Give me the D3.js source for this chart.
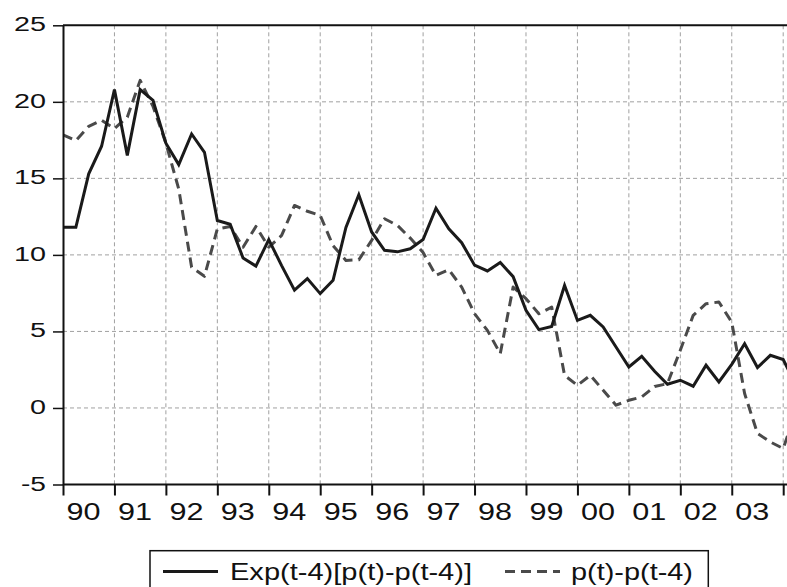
<!DOCTYPE html>
<html>
<head>
<meta charset="utf-8">
<script src="https://cdn.jsdelivr.net/npm/d3@7"></script>
<style>
  html, body { margin: 0; padding: 0; background: #fff; }
  svg { display: block; font-family: "Liberation Sans", Arial, sans-serif; }
</style>
</head>
<body>
<svg id="chart" width="787" height="587"></svg>
<script>
// ---- data (quarterly, 1990Q1 ... 2004Q2; the picture is cut off after 2004Q1) ----
const quarters = [];
for (let yr = 1990; yr <= 2004; yr++) for (let q = 1; q <= 4; q++) quarters.push(yr + "Q" + q);
const categories = quarters.slice(0, 58);

const expInflation = [
  11.8, 11.8, 15.3, 17.1, 20.8, 16.5, 20.8, 20.1,
  17.3, 15.9, 17.9, 16.7, 12.25, 12.0, 9.8, 9.27,
  11.0, 9.3, 7.7, 8.45, 7.47, 8.34, 11.8, 13.93,
  11.5, 10.3, 10.2, 10.4, 11.0, 13.05, 11.7, 10.8,
  9.33, 8.95, 9.5, 8.58, 6.38, 5.12, 5.33, 8.0,
  5.72, 6.05, 5.29, 3.98, 2.68, 3.37, 2.4, 1.55,
  1.81, 1.42, 2.79, 1.7, 2.85, 4.2, 2.64, 3.44,
  3.16, 1.5
];
const actInflation = [
  17.85, 17.47, 18.4, 18.8, 18.25, 19.0, 21.4, 19.7,
  17.3, 14.3, 9.2, 8.6, 11.7, 11.86, 10.5, 11.86,
  10.5, 11.27, 13.23, 12.85, 12.58, 10.6, 9.64, 9.68,
  10.95, 12.36, 11.93, 11.1, 10.15, 8.66, 9.03, 7.9,
  6.16, 5.07, 3.55, 7.9, 7.14, 6.16, 6.59, 2.13,
  1.48, 2.13, 1.16, 0.18, 0.5, 0.72, 1.4, 1.59,
  3.77, 6.05, 6.81, 6.92, 5.61, 0.94, -1.67, -2.22,
  -2.65, -0.2
];
const yTicks = [-5, 0, 5, 10, 15, 20, 25];
const yearTicks = ["90","91","92","93","94","95","96","97","98","99","00","01","02","03","04"];
const yearLabels = ["90","91","92","93","94","95","96","97","98","99","00","01","02","03"];
const seriesNames = ["Exp(t-4)[p(t)-p(t-4)]", "p(t)-p(t-4)"];

// ---- layout ----
const svg = d3.select("#chart");
const pLeft = 63, pRight = 800, pTop = 25.3, pBottom = 484.5;

const x = d3.scaleLinear().domain([0, 56]).range([pLeft, 783.2]);
const y = d3.scaleLinear().domain([-5, 25]).range([pBottom, pTop]);
const yearIdx = yearTicks.map((d, i) => i * 4);

svg.append("clipPath").attr("id", "clip")
  .append("rect").attr("x", pLeft).attr("y", pTop - 2).attr("width", pRight - pLeft).attr("height", pBottom - pTop + 4);

// grid
const grid = svg.append("g").attr("stroke", "#a0a0a0").attr("stroke-width", 1).attr("stroke-dasharray", "4,3");
grid.selectAll("line.h").data(yTicks.filter(v => v > -5 && v < 25)).join("line").attr("class", "h")
  .attr("x1", pLeft).attr("x2", pRight).attr("y1", d => y(d)).attr("y2", d => y(d));
grid.selectAll("line.v").data(yearIdx.slice(1)).join("line").attr("class", "v")
  .attr("x1", d => x(d)).attr("x2", d => x(d)).attr("y1", pTop).attr("y2", pBottom);

// series
const line = d3.line().x((d, i) => x(i)).y(d => y(d));
const plot = svg.append("g").attr("clip-path", "url(#clip)");
plot.append("path").datum(actInflation).attr("d", line)
  .attr("fill", "none").attr("stroke", "#4a4a4a").attr("stroke-width", 3)
  .attr("stroke-dasharray", "10,6").attr("stroke-linejoin", "round");
plot.append("path").datum(expInflation).attr("d", line)
  .attr("fill", "none").attr("stroke", "#1a1a1a").attr("stroke-width", 3)
  .attr("stroke-linejoin", "miter");

// top border
svg.append("line").attr("x1", pLeft).attr("x2", pRight).attr("y1", pTop).attr("y2", pTop)
  .attr("stroke", "#111").attr("stroke-width", 2);

// y axis
const yAxis = svg.append("g").attr("transform", `translate(${pLeft},0)`)
  .call(d3.axisLeft(y).tickValues(yTicks).tickSize(10).tickSizeOuter(0).tickPadding(7).tickFormat(d => String(d)));
yAxis.select(".domain").attr("stroke", "#111").attr("stroke-width", 2);
yAxis.selectAll(".tick line").attr("stroke", "#111").attr("stroke-width", 1.5);
yAxis.selectAll(".tick text")
  .attr("font-size", 19.5).attr("fill", "#111").attr("font-family", "Liberation Sans, Arial, sans-serif")
  .attr("x", -17).attr("dy", 5.5)
  .attr("textLength", d => String(d).length === 1 ? 16 : (d < 0 ? 25 : 32))
  .attr("lengthAdjust", "spacingAndGlyphs");

// x axis
const xAxis = svg.append("g").attr("transform", `translate(0,${pBottom})`)
  .call(d3.axisBottom(x).tickValues(yearIdx).tickSize(11).tickSizeOuter(0)
    .tickFormat((d, i) => i < yearLabels.length ? yearLabels[i] : ""));
xAxis.select(".domain").attr("stroke", "#111").attr("stroke-width", 2).attr("d", `M${pLeft},0H${pRight}`);
xAxis.selectAll(".tick line").attr("stroke", "#111").attr("stroke-width", 2);
xAxis.selectAll(".tick text")
  .attr("font-size", 23).attr("fill", "#111").attr("font-family", "Liberation Sans, Arial, sans-serif")
  .attr("text-anchor", "start").attr("x", 3).attr("y", 35.5).attr("dy", null)
  .attr("textLength", 34).attr("lengthAdjust", "spacingAndGlyphs");

// legend
const lg = svg.append("g");
lg.append("rect").attr("x", 150).attr("y", 550.7).attr("width", 558.3).attr("height", 60)
  .attr("fill", "#fff").attr("stroke", "#111").attr("stroke-width", 1.5);
lg.append("line").attr("x1", 163).attr("x2", 218).attr("y1", 571.5).attr("y2", 571.5)
  .attr("stroke", "#1a1a1a").attr("stroke-width", 3);
lg.append("text").attr("x", 230).attr("y", 580).attr("font-size", 24).attr("fill", "#111")
  .attr("textLength", 242).attr("lengthAdjust", "spacingAndGlyphs").text(seriesNames[0]);
lg.append("line").attr("x1", 505).attr("x2", 560).attr("y1", 571.5).attr("y2", 571.5)
  .attr("stroke", "#4a4a4a").attr("stroke-width", 3).attr("stroke-dasharray", "10,6");
lg.append("text").attr("x", 571).attr("y", 580).attr("font-size", 24).attr("fill", "#111")
  .attr("textLength", 122).attr("lengthAdjust", "spacingAndGlyphs").text(seriesNames[1]);
</script>
</body>
</html>
